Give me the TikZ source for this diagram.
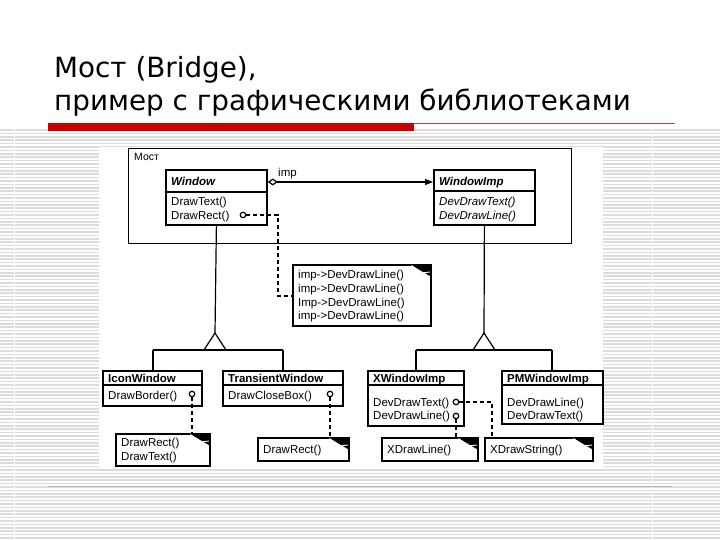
\documentclass[tikz,border=0pt]{standalone}
\usepackage{fontspec}
\setmainfont{Liberation Sans}
\newfontfamily\titlefont{DejaVu Sans}
\usetikzlibrary{arrows.meta,calc}
\definecolor{stripecol}{RGB}{220,220,220}
\definecolor{redbar}{RGB}{204,0,0}
\definecolor{thinred}{RGB}{180,70,70}
\definecolor{bottomline}{RGB}{200,170,182}
\begin{document}
\begin{tikzpicture}[x=1pt,y=-1pt,
  cls/.style={draw, line width=1.8pt, inner sep=0pt, anchor=north west},
  notebox/.style={draw, line width=1.5pt, inner sep=0pt, anchor=north west, fill=white},
  conn/.style={line width=1.2pt},
  dsh/.style={line width=1.6pt, dash pattern=on 4pt off 3pt},
  txt/.style={anchor=base west, inner sep=0pt, font=\fontsize{11.5}{13}\selectfont},
  ttl/.style={anchor=base west, inner sep=0pt, font=\fontsize{11.5}{13}\selectfont\bfseries},
  ttli/.style={anchor=base west, inner sep=0pt, font=\fontsize{11.5}{13}\selectfont\bfseries\itshape},
  txti/.style={anchor=base west, inner sep=0pt, font=\fontsize{11.5}{13}\selectfont\itshape},
  dot/.style={circle, draw, line width=1.2pt, minimum size=5.5pt, inner sep=0pt, fill=white},
  stripe/.style={stripecol, line width=1.6pt},
  titletext/.style={anchor=base west, inner sep=0pt, font=\titlefont\fontsize{27.8}{33}\selectfont}
]
\useasboundingbox (0,0) rectangle (720,540);
\fill[white] (0,0) rectangle (720,540);
% background stripes
\foreach \yy in {130,133.4,...,540} \draw[stripe] (0,\yy) -- (720,\yy);
\fill[white] (14,128) rectangle (15.2,540);
\fill[white] (651.5,128) rectangle (652.7,540);
\fill[white] (99,147) rectangle (603,467);
% title
\node[titletext] (t1) at (54,78) {Мост (Bridge),};
\node[titletext] (t2) at (54,111) {пример с графическими библиотеками};
\fill[redbar] (48,123) rectangle (414,131);
\draw[thinred, line width=1pt] (414,123.5) -- (675,123.5);
\draw[bottomline, line width=1pt] (48,486.5) -- (672,486.5);

% frame
\node[draw, line width=1.2pt, minimum width=443pt, minimum height=95pt, inner sep=0pt, anchor=north west] (frame) at (128,148) {};
\node[txt, font=\fontsize{10.5}{12}\selectfont] (framelbl) at (134,160.5) {Мост};

% Window
\node[cls, minimum width=101pt, minimum height=55pt] (window) at (165,169) {};
\draw[line width=1.3pt] ($(window.north west)+(0,23)$) -- ($(window.north east)+(0,23)$);
\node[ttli] (wt) at (171,185.5) {Window};
\node[txt] (wm1) at (171,206) {DrawText()};
\node[txt] (wm2) at (171,219) {DrawRect()};
\node[dot] (c1) at (243,215) {};

% WindowImp
\node[cls, minimum width=101pt, minimum height=55pt] (wimp) at (433,169) {};
\draw[line width=1.3pt] ($(wimp.north west)+(0,22)$) -- ($(wimp.north east)+(0,22)$);
\node[ttli] (wit) at (439,185.5) {WindowImp};
\node[txti] (wim1) at (439,206) {DevDrawText()};
\node[txti] (wim2) at (439,219) {DevDrawLine()};

% association
\coordinate (ay) at (0,182);
\draw[conn, {Diamond[open,length=10pt,width=7pt]}-{Triangle[length=8pt,width=6pt]}] (window.east |- ay) -- (wimp.west |- ay);
\node[txt] (implbl) at (278,177) {imp};

% imp note
\node[notebox, minimum width=138pt, minimum height=61pt] (impnote) at (292,264) {};
\node[txt] (n1) at (298,278) {imp->DevDrawLine()};
\node[txt] (n2) at (298,292) {imp->DevDrawLine()};
\node[txt] (n3) at (298,306) {Imp->DevDrawLine()};
\node[txt] (n4) at (298,319) {imp->DevDrawLine()};
\coordinate (k1) at (278,296);
\draw[dsh] (c1.east) -| (k1) -- (k1 -| impnote.west);

% generalization left
\coordinate (apexL) at (215,333);
\draw[conn] (window.south) -- (apexL);
\draw[conn] (apexL) -- (204,350) -- (226,350) -- cycle;
\coordinate (lbL) at (153,350);
\coordinate (lbR) at (283,350);
\draw[conn] (lbL) -- (lbR);

% IconWindow
\node[cls, minimum width=99pt, minimum height=35pt] (icon) at (102,370) {};
\draw[line width=1.3pt] ($(icon.north west)+(0,15)$) -- ($(icon.north east)+(0,15)$);
\node[ttl] (it) at (108,382) {IconWindow};
\node[txt] (im1) at (108,399) {DrawBorder()};
\node[dot] (c2) at (192,394) {};
\draw[conn] (lbL) -- (lbL |- icon.north);

% TransientWindow
\node[cls, minimum width=120pt, minimum height=35pt] (trans) at (222,370) {};
\draw[line width=1.3pt] ($(trans.north west)+(0,15)$) -- ($(trans.north east)+(0,15)$);
\node[ttl] (tt) at (228,382) {TransientWindow};
\node[txt] (tm1) at (228,399) {DrawCloseBox()};
\node[dot] (c3) at (330,394) {};
\draw[conn] (lbR) -- (lbR |- trans.north);

% generalization right
\coordinate (apexR) at (484,333);
\draw[conn] (wimp.south) -- (apexR);
\draw[conn] (apexR) -- (473,350) -- (495,350) -- cycle;
\coordinate (rbL) at (416,350);
\coordinate (rbR) at (552,350);
\draw[conn] (rbL) -- (rbR);

% XWindowImp
\node[cls, minimum width=96pt, minimum height=55pt] (xwin) at (367,370) {};
\draw[line width=1.3pt] ($(xwin.north west)+(0,15)$) -- ($(xwin.north east)+(0,15)$);
\node[ttl] (xt) at (373,382) {XWindowImp};
\node[txt] (xm1) at (373,406) {DevDrawText()};
\node[txt] (xm2) at (373,419) {DevDrawLine()};
\node[dot] (c4) at (456,402) {};
\node[dot] (c5) at (456,416) {};
\draw[conn] (rbL) -- (rbL |- xwin.north);

% PMWindowImp
\node[cls, minimum width=101pt, minimum height=53pt] (pmwin) at (501,370) {};
\draw[line width=1.3pt] ($(pmwin.north west)+(0,15)$) -- ($(pmwin.north east)+(0,15)$);
\node[ttl] (pt) at (507,382) {PMWindowImp};
\node[txt] (pm1) at (507,406) {DevDrawLine()};
\node[txt] (pm2) at (507,419) {DevDrawText()};
\draw[conn] (rbR) -- (rbR |- pmwin.north);

% notes bottom
\node[notebox, minimum width=94pt, minimum height=32pt] (note1) at (115,433) {};
\node[txt] (n1a) at (121,446) {DrawRect()};
\node[txt] (n1b) at (121,460) {DrawText()};
\node[notebox, minimum width=91pt, minimum height=23pt] (note2) at (257,437) {};
\node[txt] (n2a) at (263,453) {DrawRect()};
\node[notebox, minimum width=96pt, minimum height=23pt] (note3) at (381,437) {};
\node[txt] (n3a) at (387,453) {XDrawLine()};
\node[notebox, minimum width=108pt, minimum height=23pt] (note4) at (484,437) {};
\node[txt] (n4a) at (490,453) {XDrawString()};

% dog-ears
\foreach \nn in {impnote,note1,note2,note3,note4} {
  \fill ($(\nn.north east)+(-22,0)$) -- (\nn.north east) -- ($(\nn.north east)+(0,13)$) -- cycle;
  \draw[white, line width=0.9pt] ($(\nn.north east)+(-20,1.5)$) -- ($(\nn.north east)+(-10,9)$) -- ($(\nn.north east)+(-1.5,8)$);
}

% dashed links
\draw[dsh] (c2.south) -- (c2.south |- note1.north);
\draw[dsh] (c3.south) -- (c3.south |- note2.north);
\draw[dsh] (c5.south) -- (c5.south |- note3.north);
\coordinate (k4) at (492,402);
\draw[dsh] (c4.east) -- (k4) -- (k4 |- note4.north);
\end{tikzpicture}
\end{document}
